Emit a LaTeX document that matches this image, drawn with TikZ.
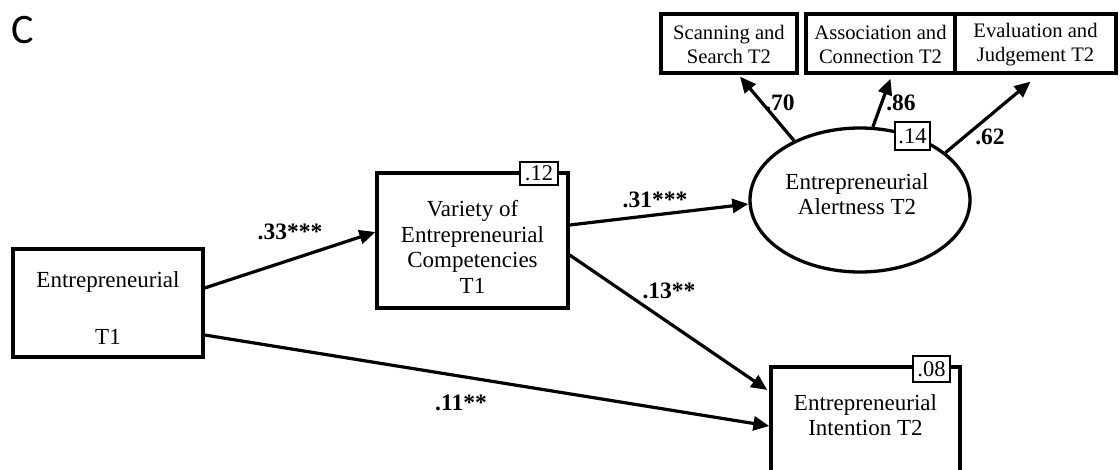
\documentclass[tikz,border=0pt]{standalone}
\usepackage{fontspec}
\setmainfont{Liberation Serif}
\newfontfamily\cfont{Carlito}
\usetikzlibrary{arrows.meta,shapes.geometric}
\begin{document}
\begin{tikzpicture}[x=1pt,y=-1pt,
  box/.style={draw,line width=3.3pt,inner sep=0pt},
  txt/.style={align=center,inner sep=0pt,font=\fontsize{23}{25.5}\selectfont},
  toptxt/.style={align=center,inner sep=0pt,font=\fontsize{20.6}{24.5}\selectfont},
  arr/.style={line width=3.2pt,-{Triangle[length=16pt,width=14pt]}},
  lab/.style={inner sep=0pt,font=\bfseries\fontsize{23.5}{26}\selectfont},
  rbox/.style={draw,fill=white,line width=2pt,inner sep=0pt,font=\fontsize{22.5}{24}\selectfont}]
\fill[white] (0,0) rectangle (1120,469);
\useasboundingbox (0,0) rectangle (1120,469);
\clip (0,0) rectangle (1120,469);

\node[inner sep=0pt,font=\cfont\fontsize{42}{46}\selectfont] (C) at (23,30) {C};

% main boxes
\node[box,minimum width=190pt,minimum height=108pt] (e1) at (108,303) {};
\node[txt] (e1t) at (108,308) {Entrepreneurial\\[31pt]T1};

\node[box,minimum width=191pt,minimum height=135pt] (var) at (472.5,240.5) {};
\node[txt] (vart) at (472.5,247) {Variety of\\Entrepreneurial\\Competencies\\T1};

\node[box,minimum width=189pt,minimum height=118pt] (int) at (865.5,426) {};
\node[txt] (intt) at (865.5,415) {Entrepreneurial\\Intention T2};

\node[draw,ellipse,line width=3.3pt,inner sep=0pt,minimum width=220pt,minimum height=144pt] (al) at (860,200) {};
\node[txt] (alt) at (857,194) {Entrepreneurial\\Alertness T2};

% top indicator boxes
\node[box,minimum width=136pt,minimum height=59pt] (scan) at (729,43.5) {};
\node[toptxt] (scant) at (729,44.5) {Scanning and\\Search T2};
\node[box,minimum width=149pt,minimum height=59pt] (asso) at (880.5,43.5) {};
\node[toptxt] (assot) at (880.5,44.5) {Association and\\Connection T2};
\node[box,minimum width=161pt,minimum height=59pt] (eval) at (1035.5,43.5) {};
\node[toptxt] (evalt) at (1035.5,44.5) {Evaluation and\\Judgement T2};

% paths
\draw[arr] ([yshift=15pt]e1.east) -- ([yshift=8.5pt]var.west);
\draw[arr] ([yshift=-32pt]e1.east) -- (int.west);
\draw[arr] ([yshift=-14.5pt]var.east) -- ([yshift=36pt,xshift=-2pt]int.west);
\draw[arr] ([yshift=15.5pt]var.east) -- ([yshift=-4pt]al.west);

\draw[arr] (al.138) -- ([xshift=11pt,yshift=-2pt]scan.south);
\draw[arr] (al.80.5) -- ([xshift=10pt,yshift=-4pt]asso.south);
\draw[arr] (al.29) -- ([xshift=-5pt,yshift=-7pt]eval.south);

% labels
\node[lab] (l33) at (290,232) {.33***};
\node[lab] (l31) at (655,200) {.31***};
\node[lab] (l13) at (669,291) {.13**};
\node[lab] (l11) at (461,403) {.11**};
\node[lab] (l70) at (780,103) {.70};
\node[lab] (l86) at (901,103) {.86};
\node[lab] (l62) at (990,137) {.62};

% R-squared boxes
\node[rbox,minimum width=38pt,minimum height=23pt] (r12) at (539,173.5) {.12};
\node[rbox,minimum width=35pt,minimum height=28pt] (r14) at (912.5,136) {.14};
\node[rbox,minimum width=37pt,minimum height=26pt] (r08) at (931.5,369) {.08};
\end{tikzpicture}
\end{document}
